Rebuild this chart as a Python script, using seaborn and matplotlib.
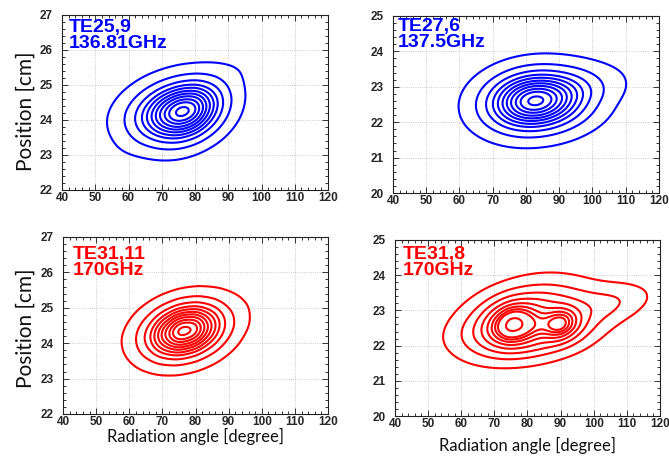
import matplotlib
matplotlib.use("Agg")
import matplotlib.pyplot as plt
import pandas as pd
import seaborn as sns
from matplotlib.ticker import MultipleLocator

# Radiation angle [degree] of the columns of every intensity map
angles = [50, 55, 60, 65, 70, 75, 80, 85, 90, 95, 100, 105, 110, 115, 120]

# Relative intensity, one row per position [cm]
te25_pos = [22.5, 22.75, 23.0, 23.25, 23.5, 23.75, 24.0, 24.25,
            24.5, 24.75, 25.0, 25.25, 25.5, 25.75, 26.0]
te25_map = [
    [0, 0, 0, 0.2, 0.4, 0.4, 0.2, 0, 0, 0, 0, 0, 0, 0, 0],
    [0, 0.3, 0.8, 1.4, 1.9, 1.6, 0.8, 0.2, 0, 0, 0, 0, 0, 0, 0],
    [0.3, 1.3, 3.0, 4.5, 6.2, 5.9, 3.1, 0.9, 0.2, 0, 0, 0, 0, 0, 0],
    [0.5, 2.5, 6.5, 11.0, 16.0, 16.6, 9.9, 3.2, 0.6, 0.1, 0, 0, 0, 0, 0],
    [0.8, 3.3, 9.9, 21.2, 33.0, 37.0, 25.0, 9.2, 1.9, 0.2, 0, 0, 0, 0, 0],
    [1.1, 4.6, 14.5, 33.0, 54.4, 64.8, 48.9, 20.1, 4.5, 0.5, 0, 0, 0, 0, 0],
    [1.1, 5.0, 16.7, 40.3, 70.2, 88.4, 74.0, 33.9, 8.5, 1.2, 0, 0, 0, 0, 0],
    [0.9, 4.4, 15.3, 38.6, 71.9, 96.4, 88.7, 45.3, 12.6, 1.9, 0.1, 0, 0, 0, 0],
    [0.5, 2.9, 10.8, 29.4, 58.0, 82.9, 83.6, 48.3, 15.1, 2.5, 0.3, 0, 0, 0, 0],
    [0.3, 1.6, 6.2, 17.9, 37.5, 56.7, 61.6, 39.8, 14.0, 2.8, 0.3, 0, 0, 0, 0],
    [0, 0.7, 2.8, 8.7, 19.2, 30.7, 35.6, 25.6, 10.5, 2.6, 0.3, 0, 0, 0, 0],
    [0, 0.2, 1.0, 3.3, 7.6, 13.0, 16.0, 13.2, 7.0, 3.0, 0.2, 0, 0, 0, 0],
    [0, 0, 0.3, 1.0, 2.4, 4.4, 5.7, 6.0, 5.0, 3.5, 0, 0, 0, 0, 0],
    [0, 0, 0, 0.2, 0.6, 1.2, 1.6, 2.0, 1.8, 1.2, 0, 0, 0, 0, 0],
    [0, 0, 0, 0, 0, 0, 0, 0, 0, 0, 0, 0, 0, 0, 0],
]

te27_pos = [20.75, 21.0, 21.25, 21.5, 21.75, 22.0, 22.25, 22.5,
            22.75, 23.0, 23.25, 23.5, 23.75, 24.0, 24.25]
te27_map = [
    [0, 0, 0, 0, 0, 0, 0, 0, 0, 0, 0, 0, 0, 0, 0],
    [0, 0, 0, 0, 0.4, 0.6, 0.7, 0.6, 0.4, 0.2, 0, 0, 0, 0, 0],
    [0, 0, 0.2, 0.6, 1.4, 2.4, 2.9, 2.5, 1.7, 0.8, 0.3, 0, 0, 0, 0],
    [0, 0, 0.5, 1.8, 4.4, 7.8, 9.6, 8.5, 5.9, 3.0, 1.2, 0.3, 0, 0, 0],
    [0, 0.2, 1.1, 4.1, 10.6, 18.9, 24.1, 22.2, 15.5, 8.2, 3.3, 1.0, 0.2, 0, 0],
    [0, 0.4, 2.1, 7.7, 20.3, 37.4, 48.8, 46.0, 32.7, 17.8, 7.3, 2.3, 0.5, 0, 0],
    [0, 0.5, 2.8, 10.7, 29.1, 55.8, 75.6, 73.4, 53.9, 29.9, 12.7, 4.0, 1.0, 0.2, 0],
    [0, 0.6, 3.1, 12.1, 34.0, 66.9, 93.5, 93.1, 69.8, 39.8, 17.1, 5.5, 1.4, 0.3, 0],
    [0, 0.5, 2.6, 10.5, 30.1, 61.6, 89.0, 91.7, 73.3, 45.8, 22.6, 8.7, 2.6, 0.6, 0],
    [0, 0.3, 1.8, 7.3, 21.9, 46.0, 67.9, 72.0, 60.6, 40.9, 22.6, 10.2, 3.7, 1.1, 0.2],
    [0, 0, 0.9, 3.9, 11.9, 25.9, 39.7, 43.3, 37.8, 27.5, 16.8, 8.6, 3.6, 1.3, 0.4],
    [0, 0, 0.4, 1.7, 5.3, 11.8, 18.7, 21.0, 18.7, 14.3, 9.5, 5.3, 2.5, 1.0, 0.3],
    [0, 0, 0, 0.5, 1.8, 4.1, 6.7, 7.8, 7.0, 5.2, 3.2, 1.6, 0.7, 0.2, 0],
    [0, 0, 0, 0, 0.5, 1.1, 1.9, 2.3, 2.0, 1.4, 0.8, 0.3, 0, 0, 0],
    [0, 0, 0, 0, 0, 0, 0.4, 0.5, 0.5, 0.3, 0, 0, 0, 0, 0],
]

te31_11_pos = [22.5, 22.75, 23.0, 23.25, 23.5, 23.75, 24.0, 24.25,
               24.5, 24.75, 25.0, 25.25, 25.5, 25.75, 26.0]
te31_11_map = [
    [0, 0, 0, 0, 0, 0, 0, 0, 0, 0, 0, 0, 0, 0, 0],
    [0, 0, 0, 0.2, 0.4, 0.3, 0, 0, 0, 0, 0, 0, 0, 0, 0],
    [0, 0, 0.5, 1.2, 1.8, 1.7, 0.9, 0.3, 0, 0, 0, 0, 0, 0, 0],
    [0, 0.3, 1.4, 3.9, 6.7, 6.8, 4.2, 1.5, 0.3, 0, 0, 0, 0, 0, 0],
    [0, 0.6, 3.1, 9.7, 18.0, 20.1, 13.5, 5.5, 1.3, 0.2, 0, 0, 0, 0, 0],
    [0.1, 0.9, 5.2, 17.7, 36.7, 45.2, 33.4, 14.9, 3.9, 0.6, 0, 0, 0, 0, 0],
    [0, 1.1, 6.5, 24.4, 55.0, 75.0, 60.8, 30.0, 8.8, 1.5, 0.2, 0, 0, 0, 0],
    [0.1, 0.9, 6.3, 25.7, 63.9, 94.9, 84.9, 45.5, 14.7, 2.8, 0.2, 0, 0, 0, 0],
    [0, 0.6, 4.2, 19.5, 53.2, 88.2, 87.2, 51.4, 18.5, 5.0, 0.5, 0, 0, 0, 0],
    [0, 0.3, 2.3, 11.5, 34.4, 62.8, 68.1, 44.2, 17.4, 5.0, 0.6, 0, 0, 0, 0],
    [0, 0, 0.9, 5.0, 16.5, 32.7, 39.0, 27.8, 12.0, 5.0, 0.5, 0, 0, 0, 0],
    [0, 0, 0.3, 1.6, 5.9, 12.9, 17.0, 13.4, 6.4, 3.0, 0.3, 0, 0, 0, 0],
    [0, 0, 0, 0.4, 1.5, 3.7, 5.4, 4.6, 3.0, 2.0, 0, 0, 0, 0, 0],
    [0, 0, 0, 0, 0.3, 0.9, 1.3, 1.3, 1.2, 0.8, 0, 0, 0, 0, 0],
    [0, 0, 0, 0, 0, 0, 0, 0, 0, 0, 0, 0, 0, 0, 0],
]

te31_8_pos = [21.0, 21.25, 21.5, 21.75, 22.0, 22.25, 22.5, 22.75,
              23.0, 23.25, 23.5, 23.75, 24.0, 24.25]
te31_8_map = [
    [0, 0, 0, 0, 0, 0, 0, 0, 0, 0, 0, 0, 0, 0, 0],
    [0.1, 0.3, 0.8, 1.3, 1.7, 1.7, 1.4, 0.9, 0.5, 0.2, 0.1, 0, 0, 0, 0],
    [0.3, 0.9, 2.2, 3.9, 5.5, 5.9, 5.0, 3.4, 1.9, 0.8, 0.3, 0.1, 0, 0, 0],
    [0.6, 1.8, 4.6, 9.1, 13.8, 16.9, 14.4, 10.0, 5.8, 2.7, 1.0, 0.3, 0, 0, 0],
    [0.8, 2.8, 7.6, 15.8, 27.2, 39.3, 32.3, 22.9, 16.3, 7.0, 2.6, 0.8, 0.2, 0, 0],
    [0.9, 3.3, 9.5, 21.0, 41.9, 73.6, 52.0, 30.0, 47.5, 14.4, 5.3, 1.8, 0.5, 0.1, 0],
    [0.7, 2.9, 8.9, 21.3, 49.7, 102, 70.0, 44.0, 92.6, 24.0, 9.2, 3.7, 1.1, 0.3, 0],
    [0.5, 2.0, 6.6, 16.8, 43.8, 97.4, 68.0, 44.0, 89.2, 27.7, 13.8, 7.3, 2.9, 0.8, 0.1],
    [0.3, 1.1, 4.1, 11.2, 29.6, 64.9, 52.0, 36.0, 49.5, 25.2, 17.8, 12.7, 6.7, 2.2, 0.4],
    [0.1, 0.6, 2.2, 6.3, 16.0, 32.7, 34.2, 31.5, 26.7, 19.4, 16.1, 14.4, 9.7, 4.1, 1.0],
    [0, 0.2, 1.0, 3.0, 7.5, 14.5, 18.6, 19.3, 16.4, 12.4, 10.0, 9.5, 7.8, 4.1, 1.3],
    [0, 0, 0.4, 1.2, 3.0, 5.9, 8.7, 10.0, 9.0, 6.8, 4.8, 3.9, 3.4, 2.1, 0.8],
    [0, 0, 0, 0.4, 1.1, 2.2, 3.6, 4.4, 4.1, 3.1, 1.9, 1.3, 1.0, 0.6, 0.3],
    [0, 0, 0, 0, 0.3, 0.7, 1.3, 1.6, 1.7, 1.3, 0.9, 0.4, 0.2, 0, 0],
]

x_ticks = [40, 50, 60, 70, 80, 90, 100, 110, 120]
y_ticks_left = [22, 23, 24, 25, 26, 27]
y_ticks_right = [20, 21, 22, 23, 24, 25]

iso_levels = [0.05, 0.17, 0.30, 0.41, 0.50, 0.59, 0.67, 0.75, 0.83, 0.90, 0.975]
iso_levels_two_peak = [0.05, 0.16, 0.29, 0.41, 0.52, 0.62, 0.71, 0.81, 0.96]


def to_long(positions, rows):
    df = pd.DataFrame(rows, index=positions, columns=angles)
    df = df.stack().reset_index()
    df.columns = ["position", "angle", "weight"]
    return df[df["weight"] > 0]


sns.set_style("ticks")
plt.rcParams["font.family"] = ["Liberation Sans", "DejaVu Sans"]

fig = plt.figure(figsize=(6.69, 4.58), dpi=100)

panels = [
    # rect, data, label, colour, y ticks, bandwidth, levels, label xy
    ([0.0927, 0.5852, 0.3976, 0.3821], to_long(te25_pos, te25_map),
     "TE25,9\n136.81GHz", "#0000ff", y_ticks_left, 0.4, iso_levels, (0.025, 0.977)),
    ([0.5874, 0.5786, 0.3976, 0.3865], to_long(te27_pos, te27_map),
     "TE27,6\n137.5GHz", "#0000ff", y_ticks_right, 0.4, iso_levels, (0.019, 0.989)),
    ([0.0942, 0.0961, 0.3961, 0.3865], to_long(te31_11_pos, te31_11_map),
     "TE31,11\n170GHz", "#ff0000", y_ticks_left, 0.4, iso_levels, (0.037, 0.949)),
    ([0.5904, 0.0917, 0.3961, 0.3843], to_long(te31_8_pos, te31_8_map),
     "TE31,8\n170GHz", "#ff0000", y_ticks_right, 0.3, iso_levels_two_peak, (0.029, 0.966)),
]

axes = []
for rect, df, label, color, yticks, bw, levels, txy in panels:
    ax = fig.add_axes(rect)
    sns.kdeplot(data=df, x="angle", y="position", weights="weight",
                bw_method=bw, levels=levels, color=color, linewidths=1.5, ax=ax)
    ax.set_xlim(x_ticks[0], x_ticks[-1])
    ax.set_ylim(yticks[0], yticks[-1])
    ax.set_xticks(x_ticks, [str(t) for t in x_ticks], fontweight="bold", fontsize=8.5)
    ax.set_yticks(yticks, [str(t) for t in yticks], fontweight="bold", fontsize=8.5)
    ax.xaxis.set_minor_locator(MultipleLocator(2))
    ax.yaxis.set_minor_locator(MultipleLocator(0.2))
    ax.tick_params(which="both", direction="in", top=True, right=True,
                   color="#333333", width=0.7)
    ax.tick_params(which="major", length=4)
    ax.tick_params(which="minor", length=2)
    ax.tick_params(axis="x", which="major", pad=1.5)
    ax.tick_params(axis="y", which="major", pad=6.5)
    ax.grid(True, which="major", linestyle=":", linewidth=0.6, color="#bbbbbb")
    for side in ax.spines.values():
        side.set_linewidth(0.8)
        side.set_color("#222222")
    ax.set_xlabel("")
    ax.set_ylabel("")
    ax.text(txy[0], txy[1], label, transform=ax.transAxes, ha="left", va="top",
            fontsize=14, fontweight="bold", color=color, linespacing=0.92)
    axes.append(ax)

for ax in (axes[0], axes[2]):
    ax.set_ylabel("Position [cm]", family=["Lato", "DejaVu Sans"],
                  fontsize=15, color="#111111")
axes[0].yaxis.set_label_coords(-0.10, 0.449)
axes[2].yaxis.set_label_coords(-0.104, 0.486)
for ax in (axes[2], axes[3]):
    ax.set_xlabel("Radiation angle [degree]", family=["Lato", "DejaVu Sans"],
                  fontsize=12, color="#111111")
axes[2].xaxis.set_label_coords(0.5, -0.08)
axes[3].xaxis.set_label_coords(0.5, -0.119)

fig.savefig("out.png", dpi=100, facecolor="white")
